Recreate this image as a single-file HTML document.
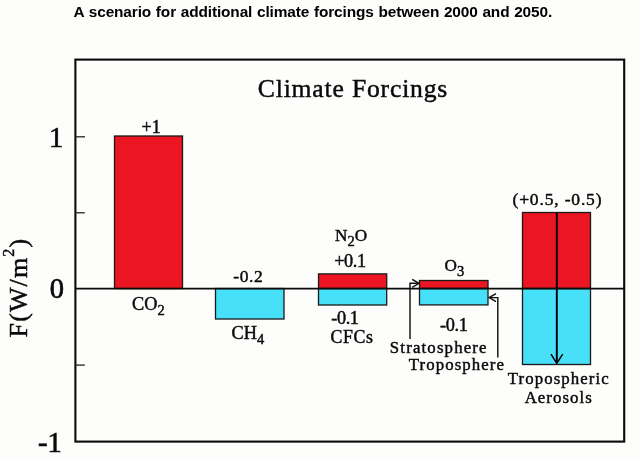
<!DOCTYPE html>
<html><head><meta charset="utf-8"><title>Climate Forcings</title>
<style>
html,body{margin:0;padding:0;background:#fdfdfc;}
body{width:640px;height:460px;overflow:hidden;position:relative;}
svg{position:absolute;left:0;top:0;display:block;}
.t{font-family:"Liberation Serif","Times New Roman",serif;fill:#0a0a0a;stroke:#0a0a0a;stroke-width:0.45px;}
.k{stroke-width:0.7px;}
.h{font-family:"Liberation Sans",Arial,sans-serif;font-weight:bold;font-size:15.4px;fill:#000;word-spacing:0.6px;}
</style></head><body>
<svg width="640" height="460" viewBox="0 0 640 460">
<rect x="0" y="0" width="640" height="460" fill="#fdfdfc"/>
<text class="h" x="73.6" y="16.8" textLength="478.6" lengthAdjust="spacing">A scenario for additional climate forcings between 2000 and 2050.</text>

<!-- bars -->
<g stroke="#1a1a1a" stroke-width="1.3">
<rect x="114.5" y="136" width="68" height="152.5" fill="#eb1622"/>
<rect x="215.5" y="288.5" width="68.5" height="30.5" fill="#48e0f8"/>
<rect x="318.5" y="273.9" width="68.2" height="14.6" fill="#eb1622"/>
<rect x="318.5" y="288.5" width="68.2" height="16.5" fill="#48e0f8"/>
<rect x="419.5" y="280.5" width="68.5" height="8" fill="#eb1622"/>
<rect x="419.5" y="288.5" width="68.5" height="16.4" fill="#48e0f8"/>
<rect x="522.5" y="212.5" width="68" height="76" fill="#eb1622"/>
<rect x="522.5" y="288.5" width="68" height="76" fill="#48e0f8"/>
</g>

<!-- frame -->
<rect x="75.4" y="59.6" width="548.8" height="382" fill="none" stroke="#0a0a0a" stroke-width="2.1"/>
<!-- zero line -->
<line x1="75" y1="288.6" x2="624" y2="288.6" stroke="#0a0a0a" stroke-width="1.6"/>
<!-- ticks -->
<g stroke="#222" stroke-width="1.3">
<line x1="75" y1="136.8" x2="85" y2="136.8"/>
<line x1="75" y1="212.8" x2="84.8" y2="212.8"/>
<line x1="75" y1="365.1" x2="84.8" y2="365.1"/>
</g>

<!-- arrows -->
<g stroke="#111" stroke-width="1.45" fill="none">
<path d="M410 339 V283.3 H418.8"/>
<path d="M412.2 279.3 L419 283.3 L412.2 287.3"/>
<path d="M497.8 357.5 V297.6 H489.5"/>
<path d="M496 293.6 L489.2 297.6 L496 301.6"/>
</g>
<g stroke="#000" stroke-width="1.9" fill="none">
<path d="M556.8 212.5 V363"/>
<path d="M551 354.2 L556.8 363.4 L562.7 354.2" stroke-width="1.5"/>
</g>

<!-- text -->
<text class="t" x="257.8" y="97" font-size="25.6" textLength="189.5" lengthAdjust="spacing">Climate Forcings</text>
<g font-size="28.5">
<text class="t k" x="49" y="146.7">1</text>
<text class="t k" x="49.8" y="298.3">0</text>
<text class="t k" x="38" y="451.6">-1</text>
</g>
<text class="t" transform="translate(27.4,337.4) rotate(-90)" font-size="26" textLength="98.5" lengthAdjust="spacing">F(W/m<tspan font-size="16" dy="-13">2</tspan><tspan dy="13">)</tspan></text>

<text class="t" x="141.5" y="132.7" font-size="18">+1</text>
<text class="t" x="233.3" y="281.6" font-size="17.5" textLength="29.4" lengthAdjust="spacing">-0.2</text>
<text class="t" x="334.2" y="266.6" font-size="18.3" textLength="32" lengthAdjust="spacing">+0.1</text>
<text class="t" x="331.2" y="324.4" font-size="18.3" textLength="27.8" lengthAdjust="spacing">-0.1</text>
<text class="t" x="440" y="330.6" font-size="18.3" textLength="28" lengthAdjust="spacing">-0.1</text>
<text class="t" x="512.5" y="205.2" font-size="17.5" textLength="89" lengthAdjust="spacing">(+0.5, -0.5)</text>

<text class="t" x="132" y="309.7" font-size="18.3">CO<tspan font-size="14.5" dy="5">2</tspan></text>
<text class="t" x="231.6" y="338.8" font-size="18.3">CH<tspan font-size="14.5" dy="5">4</tspan></text>
<text class="t" x="335" y="241.2" font-size="17.2">N<tspan font-size="14.5" dy="5">2</tspan><tspan dy="-5">O</tspan></text>
<text class="t" x="330.5" y="343.4" font-size="17.8" textLength="42.5" lengthAdjust="spacing">CFCs</text>
<text class="t" x="444.6" y="270.5" font-size="17.2">O<tspan font-size="14.5" dy="5">3</tspan></text>

<g font-size="16.8">
<text class="t" x="389.8" y="353.2" textLength="96.7" lengthAdjust="spacing">Stratosphere</text>
<text class="t" x="408.8" y="370.3" textLength="95.2" lengthAdjust="spacing">Troposphere</text>
<text class="t" x="507.7" y="384.3" textLength="101" lengthAdjust="spacing">Tropospheric</text>
<text class="t" x="524.7" y="403" textLength="67" lengthAdjust="spacing">Aerosols</text>
</g>
</svg>
</body></html>
